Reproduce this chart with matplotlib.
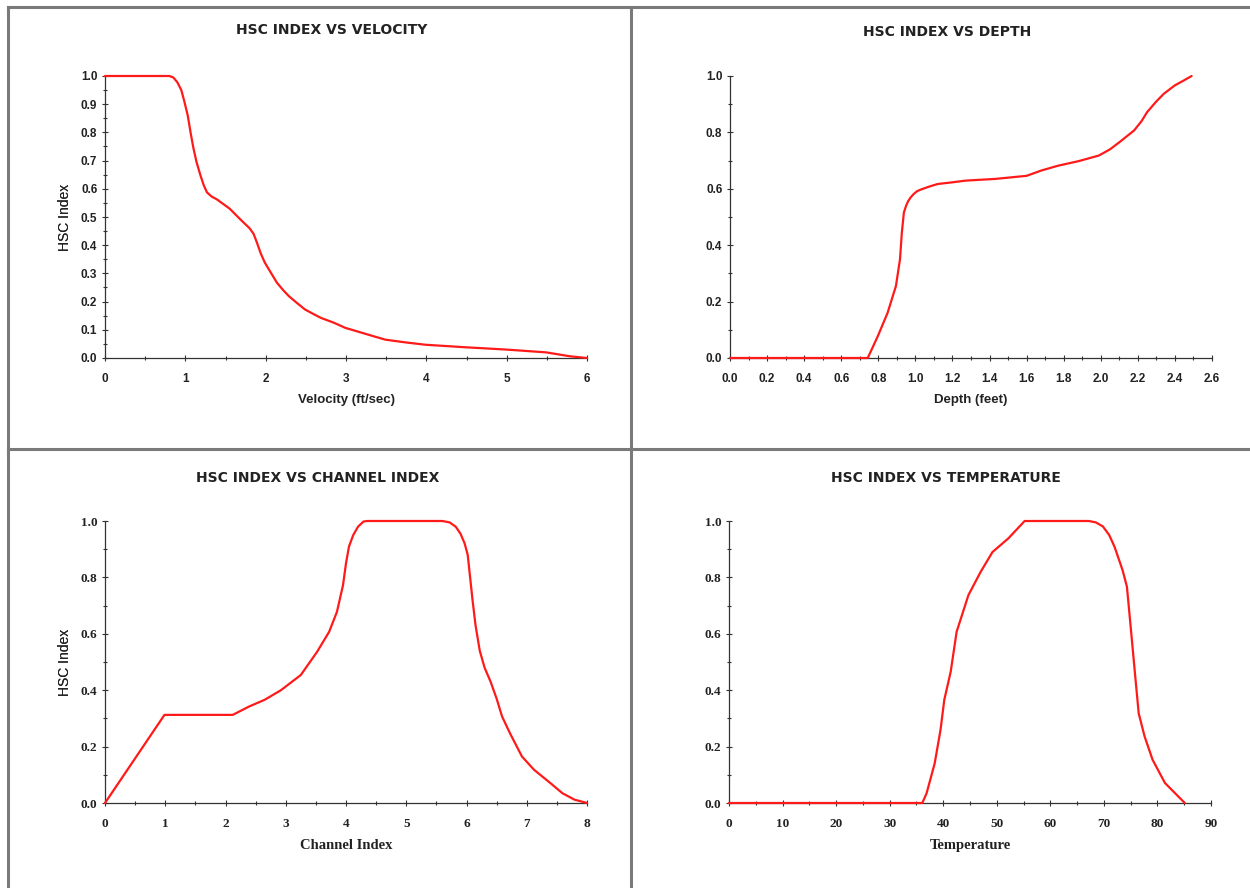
import matplotlib
matplotlib.use("Agg")
import matplotlib.pyplot as plt
from matplotlib.lines import Line2D
import numpy as np

plt.rcParams['font.family'] = ['Liberation Sans', 'DejaVu Sans']

# ---- data ----
vel_x = [0, 0.8, 0.85, 0.9, 0.95, 0.99, 1.03, 1.065, 1.1, 1.14, 1.19, 1.23, 1.27, 1.33, 1.39, 1.55,
         1.69, 1.8, 1.85, 1.89, 1.94, 1.99, 2.07, 2.14, 2.22, 2.29, 2.39, 2.49, 2.6, 2.69, 2.85,
         2.99, 3.25, 3.49, 3.75, 3.99, 4.49, 4.99, 5.49, 5.79, 6.0]
vel_y = [1.0, 1.0, 0.995, 0.978, 0.95, 0.907, 0.86, 0.80, 0.745, 0.694, 0.646, 0.612, 0.587, 0.572,
         0.563, 0.53, 0.49, 0.46, 0.44, 0.41, 0.37, 0.338, 0.30, 0.267, 0.24, 0.219, 0.195, 0.172,
         0.155, 0.142, 0.125, 0.107, 0.085, 0.065, 0.055, 0.047, 0.038, 0.030, 0.02, 0.006, 0.0]

dep_x = [0.0, 0.743, 0.797, 0.85, 0.895, 0.917, 0.927, 0.938, 0.95, 0.96, 0.975, 0.99, 1.01, 1.036,
         1.08, 1.12, 1.2, 1.27, 1.43, 1.6, 1.68, 1.77, 1.88, 1.99, 2.05, 2.10, 2.18, 2.22, 2.25,
         2.30, 2.34, 2.40, 2.45, 2.49]
dep_y = [0.0, 0.0, 0.077, 0.16, 0.255, 0.35, 0.445, 0.516, 0.54, 0.555, 0.57, 0.581, 0.592, 0.599,
         0.609, 0.617, 0.623, 0.629, 0.635, 0.646, 0.665, 0.682, 0.698, 0.718, 0.74, 0.765, 0.807,
         0.84, 0.872, 0.91, 0.937, 0.967, 0.985, 1.0]

chn_x = [0, 0.987, 2.12, 2.39, 2.65, 2.92, 3.25, 3.52, 3.72, 3.85, 3.95, 4.0, 4.05, 4.12, 4.2,
         4.29, 4.35, 5.6, 5.72, 5.82, 5.9, 5.97, 6.02, 6.06, 6.1, 6.15, 6.22, 6.3, 6.4, 6.5, 6.59,
         6.72, 6.92, 7.12, 7.39, 7.59, 7.79, 8.0]
chn_y = [0.0, 0.3125, 0.3125, 0.342, 0.366, 0.40, 0.454, 0.536, 0.607, 0.678, 0.772, 0.85, 0.91,
         0.95, 0.98, 0.998, 1.0, 1.0, 0.995, 0.98, 0.955, 0.92, 0.88, 0.80, 0.72, 0.63, 0.54, 0.48,
         0.43, 0.37, 0.307, 0.248, 0.165, 0.118, 0.071, 0.035, 0.012, 0.0]

tmp_x = [0, 36.1, 36.9, 38.4, 39.5, 40.2, 41.4, 42.5, 44.7, 47.0, 49.2, 52.2, 55.2, 67.2, 68.5,
         69.8, 71.0, 72.0, 73.5, 74.3, 75.0, 75.8, 76.5, 77.6, 79.1, 81.4, 85.1]
tmp_y = [0.0, 0.0, 0.035, 0.14, 0.26, 0.366, 0.466, 0.607, 0.737, 0.82, 0.89, 0.939, 1.0, 1.0, 0.995,
         0.981, 0.95, 0.908, 0.825, 0.767, 0.625, 0.46, 0.318, 0.236, 0.153, 0.071, 0.0]

titles = ["HSC INDEX VS VELOCITY", "HSC INDEX VS DEPTH",
          "HSC INDEX VS CHANNEL INDEX", "HSC INDEX VS TEMPERATURE"]
xlabels = ["Velocity (ft/sec)", "Depth (feet)", "Channel Index", "Temperature"]
ylabel = "HSC Index"

W, H = 1250, 888
fig = plt.figure(figsize=(W / 100, H / 100), dpi=100)

def fx(px):
    return px / W

def fy(py):
    return 1 - py / H

# frame lines
gray = '#7a7a7a'
for (x0, y0, x1, y1) in [(8, 7, 1250, 7), (8, 7, 8, 888), (631, 7, 631, 888), (8, 449, 1250, 449)]:
    fig.add_artist(Line2D([fx(x0), fx(x1)], [fy(y0), fy(y1)], color=gray, lw=2.2,
                          transform=fig.transFigure))

panels = [
    dict(x=vel_x, y=vel_y, left=105, right=587, top=76, bot=358, xlim=(0, 6),
         xt=np.arange(0, 7, 1), xminor=np.arange(0, 6.01, 0.5), xfmt="{:.0f}",
         yt=np.arange(0, 1.01, 0.1), yminor=np.arange(0, 1.001, 0.05), tx=332, ty=30,
         serif=False, tfs=8.5, lfs=9.5),
    dict(x=dep_x, y=dep_y, left=730, right=1212, top=76, bot=358, xlim=(0, 2.6),
         xt=np.arange(0, 2.61, 0.2), xminor=np.arange(0, 2.61, 0.1), xfmt="{:.1f}",
         yt=np.arange(0, 1.01, 0.2), yminor=np.arange(0, 1.001, 0.1), tx=947, ty=32,
         serif=False, tfs=8.5, lfs=9.5),
    dict(x=chn_x, y=chn_y, left=105, right=587, top=521, bot=803, xlim=(0, 8),
         xt=np.arange(0, 9, 1), xminor=np.arange(0, 8.01, 0.5), xfmt="{:.0f}",
         yt=np.arange(0, 1.01, 0.2), yminor=np.arange(0, 1.001, 0.1), tx=318, ty=478,
         serif=True, tfs=9.5, lfs=10.5),
    dict(x=tmp_x, y=tmp_y, left=729, right=1211, top=521, bot=803, xlim=(0, 90),
         xt=np.arange(0, 91, 10), xminor=np.arange(0, 90.1, 5), xfmt="{:.0f}",
         yt=np.arange(0, 1.01, 0.2), yminor=np.arange(0, 1.001, 0.1), tx=946, ty=478,
         serif=True, tfs=9.5, lfs=10.5),
]

for i, p in enumerate(panels):
    ax = fig.add_axes([fx(p['left']), fy(p['bot']), (p['right'] - p['left']) / W,
                       (p['bot'] - p['top']) / H])
    ax.plot(p['x'], p['y'], color='#ff1a1a', lw=1.6, solid_joinstyle='round',
            solid_capstyle='round', clip_on=False, zorder=3)
    ax.set_xlim(*p['xlim'])
    ax.set_ylim(0, 1.0)
    for s in ['top', 'right']:
        ax.spines[s].set_visible(False)
    for s in ['left', 'bottom']:
        ax.spines[s].set_color('#333333')
        ax.spines[s].set_linewidth(0.9)
    ax.set_xticks(p['xt'])
    ax.set_xticks(p['xminor'], minor=True)
    ax.set_yticks(p['yt'])
    ax.set_yticks(p['yminor'], minor=True)
    fam = ['Liberation Serif'] if p['serif'] else ['Liberation Sans']
    ax.set_xticklabels([p['xfmt'].format(v) for v in p['xt']], fontsize=p['tfs'],
                       family=fam, fontweight='bold', color='#222222')
    ax.set_yticklabels(["{:.1f}".format(v) for v in p['yt']], fontsize=p['tfs'],
                       family=fam, fontweight='bold', color='#222222')
    ax.tick_params(axis='both', which='major', direction='inout', length=5, width=0.8,
                   color='#333333')
    ax.tick_params(axis='x', which='major', pad=8)
    ax.tick_params(axis='y', which='major', pad=3)
    ax.tick_params(axis='both', which='minor', direction='inout', length=3, width=0.8,
                   color='#333333')
    ax.set_xlabel(xlabels[i], fontsize=p['lfs'], family=fam, fontweight='bold',
                  color='#222222', labelpad=7)
    ax.set_ylabel(ylabel, fontsize=10, color='#222222')
    ax.yaxis.set_label_coords(-(p['left'] - 72) / (p['right'] - p['left']), 0.5)
    fig.text(fx(p['tx']), fy(p['ty']), titles[i], ha='center', va='center',
             fontsize=10, fontweight='bold', family=['DejaVu Sans'], color='#222222')

fig.savefig("out.png", dpi=100, facecolor='white')
